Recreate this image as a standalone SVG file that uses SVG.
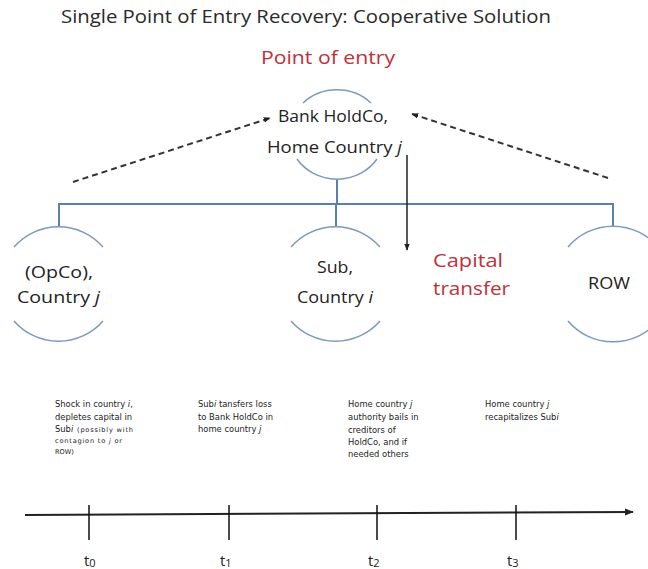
<svg xmlns="http://www.w3.org/2000/svg" width="648" height="569" viewBox="0 0 648 569">
<style>
.title{font-family:"Open Sans","Liberation Sans",sans-serif;font-size:18px;fill:#2a2a2a}
.red{font-family:"Open Sans","Liberation Sans",sans-serif;font-size:19px;fill:#c0303a}
.node{font-family:"Open Sans","Liberation Sans",sans-serif;font-size:16px;fill:#222}
.arc{fill:none;stroke:#7b98c0;stroke-width:1.5}
.tree{fill:none;stroke:#5a80b0;stroke-width:2}
.dash{fill:none;stroke:#333;stroke-width:2;stroke-dasharray:6 4}
.small{font-family:"DejaVu Sans","Verdana",sans-serif;font-size:8.4px;fill:#222}
.tiny{font-size:6.6px}
.tl{fill:none;stroke:#222;stroke-width:2}
.tick{fill:none;stroke:#111;stroke-width:1.5}
.tlab{font-family:"Open Sans","Liberation Sans",sans-serif;font-size:15px;fill:#222}
.it{font-style:italic}
</style>
<defs>
<marker id="ah" viewBox="0 0 10 10" refX="9" refY="5" markerWidth="7" markerHeight="7" markerUnits="userSpaceOnUse" orient="auto"><path d="M0,1 L10,5 L0,9 z" fill="#222" stroke="none"/></marker>
<marker id="ahl" viewBox="0 0 10 10" refX="9" refY="5" markerWidth="9" markerHeight="9" markerUnits="userSpaceOnUse" orient="auto"><path d="M0,1 L10,5 L0,9 z" fill="#222" stroke="none"/></marker>
</defs>
<rect width="648" height="569" fill="#fff"/>

<text class="title" x="61" y="23" textLength="490" lengthAdjust="spacingAndGlyphs">Single Point of Entry Recovery: Cooperative Solution</text>
<text class="red" x="261" y="64" textLength="134" lengthAdjust="spacingAndGlyphs">Point of entry</text>

<g id="connectors">
<path class="tree" d="M337,179 V204 M59,204 H613 M59,203 V226 M336,203 V226 M613,203 V226"/>
<path class="dash" d="M73,182 L270,118" marker-end="url(#ah)"/>
<path class="dash" d="M608,178 L412,114" marker-end="url(#ah)"/>
<path d="M407,155 V250" fill="none" stroke="#222" stroke-width="1.5" marker-end="url(#ah)"/>
</g>

<g id="node-holdco">
<path class="arc" d="M303,103 A48,45 0 0 1 371,103"/>
<path class="arc" d="M297,159 A48,45 0 0 0 377,159"/>
<text class="node" x="278" y="122" textLength="110" lengthAdjust="spacingAndGlyphs">Bank HoldCo,</text>
<text class="node" x="267" y="153" textLength="135" lengthAdjust="spacingAndGlyphs">Home Country <tspan class="it">j</tspan></text>
</g>

<g id="node-opco">
<path class="arc" d="M14,247 A59,59 0 0 1 103,247"/>
<path class="arc" d="M14,321 A59,59 0 0 0 103,321"/>
<text class="node" x="25" y="278" textLength="68" lengthAdjust="spacingAndGlyphs">(OpCo),</text>
<text class="node" x="17" y="303" textLength="83" lengthAdjust="spacingAndGlyphs">Country <tspan class="it">j</tspan></text>
</g>

<g id="node-sub">
<path class="arc" d="M291,247 A59,59 0 0 1 380,247"/>
<path class="arc" d="M291,321 A59,59 0 0 0 380,321"/>
<text class="node" x="317" y="273" textLength="36" lengthAdjust="spacingAndGlyphs">Sub,</text>
<text class="node" x="297" y="303" textLength="76" lengthAdjust="spacingAndGlyphs">Country <tspan class="it">i</tspan></text>
</g>

<g id="node-row">
<path class="arc" d="M568,247 A59,59 0 0 1 658,247"/>
<path class="arc" d="M568,321 A59,59 0 0 0 658,321"/>
<text class="node" x="588" y="289" textLength="42" lengthAdjust="spacingAndGlyphs">ROW</text>
</g>

<text class="red" x="433" y="267" textLength="70" lengthAdjust="spacingAndGlyphs">Capital</text>
<text class="red" x="433" y="295" textLength="77" lengthAdjust="spacingAndGlyphs">transfer</text>

<g id="timeline">
<path class="tl" d="M25,515 L633,512" marker-end="url(#ahl)"/>
<path class="tick" d="M89,505 V540 M229,505 V540 M377,505 V540 M516,505 V540"/>
<text class="tlab" x="84" y="566">t<tspan font-size="11" dy="1">0</tspan></text>
<text class="tlab" x="220" y="566">t<tspan font-size="11" dy="1">1</tspan></text>
<text class="tlab" x="368" y="566">t<tspan font-size="11" dy="1">2</tspan></text>
<text class="tlab" x="507" y="566">t<tspan font-size="11" dy="1">3</tspan></text>
</g>

<g id="event-t0" class="small">
<text x="55" y="407">Shock in country <tspan class="it">i</tspan>,</text>
<text x="55" y="419.5">depletes capital in</text>
<text x="55" y="432">Sub<tspan class="it">i</tspan></text>
<text x="77" y="432" class="tiny" textLength="56">(possibly with</text>
<text x="55" y="443" class="tiny" textLength="67">contagion  to <tspan class="it">j</tspan> or</text>
<text x="55" y="454" class="tiny">ROW)</text>
</g>

<g id="event-t1" class="small">
<text x="198" y="407">Sub<tspan class="it">i</tspan> tansfers loss</text>
<text x="198" y="419.5">to Bank HoldCo in</text>
<text x="198" y="432">home country <tspan class="it">j</tspan></text>
</g>

<g id="event-t2" class="small">
<text x="348" y="407">Home country <tspan class="it">j</tspan></text>
<text x="348" y="420">authority bails in</text>
<text x="348" y="433">creditors  of</text>
<text x="348" y="445">HoldCo, and  if</text>
<text x="348" y="457">needed  others</text>
</g>

<g id="event-t3" class="small">
<text x="485" y="407">Home country <tspan class="it">j</tspan></text>
<text x="485" y="420">recapitalizes Sub<tspan class="it">i</tspan></text>
</g>
</svg>
